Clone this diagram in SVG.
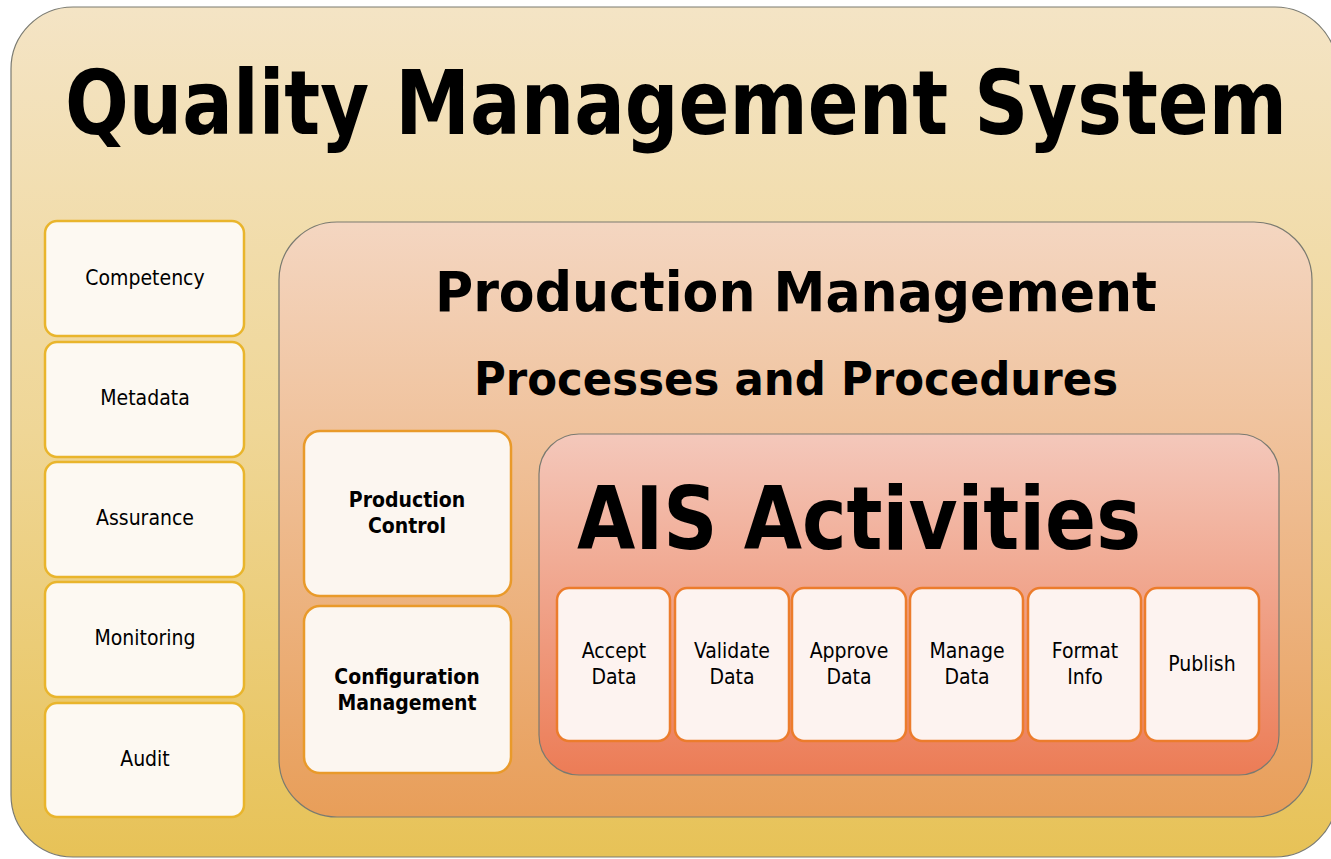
<svg xmlns="http://www.w3.org/2000/svg" width="1331" height="859" viewBox="0 0 1331 859">
<defs>
<linearGradient id="gOuter" x1="0" y1="0" x2="0" y2="1"><stop offset="0" stop-color="#f4e4c5"/><stop offset="0.5" stop-color="#efd696"/><stop offset="1" stop-color="#e7c257"/></linearGradient>
<linearGradient id="gProd" x1="0" y1="0" x2="0" y2="1"><stop offset="0" stop-color="#f4d6c1"/><stop offset="1" stop-color="#e89e59"/></linearGradient>
<linearGradient id="gAis" x1="0" y1="0" x2="0" y2="1"><stop offset="0" stop-color="#f4c8bb"/><stop offset="1" stop-color="#ec7c56"/></linearGradient>
<style>
text{font-family:"DejaVu Sans Condensed","DejaVu Sans",sans-serif;fill:#000;text-anchor:middle}
.big{font-weight:bold}
.qbox{fill:#fdf9f2;stroke:#e9b52c;stroke-width:2.5}
.pbox{fill:#fcf6f0;stroke:#e99a2a;stroke-width:2.5}
.abox{fill:#fdf3f0;stroke:#ec7c2c;stroke-width:2.5}
.lbl{font-size:21px}
.lblb{font-size:21px;font-weight:bold}
.cont{stroke:#7a7a70;stroke-width:1.2}
</style>
</defs>
<rect width="1331" height="859" fill="#ffffff"/>
<g id="qms">
<rect class="cont" x="11" y="7" width="1326" height="850" rx="62" fill="url(#gOuter)"/>
<text class="big" transform="translate(676,134) scale(1,1.12)" x="0" y="0" font-size="80" textLength="1222" lengthAdjust="spacingAndGlyphs">Quality Management System</text>
</g>
<g id="competency"><rect class="qbox" x="45" y="221" width="199" height="115" rx="12"/><text class="lbl" x="145" y="285">Competency</text></g>
<g id="metadata"><rect class="qbox" x="45" y="342" width="199" height="115" rx="12"/><text class="lbl" x="145" y="405">Metadata</text></g>
<g id="assurance"><rect class="qbox" x="45" y="462" width="199" height="115" rx="12"/><text class="lbl" x="145" y="525">Assurance</text></g>
<g id="monitoring"><rect class="qbox" x="45" y="582" width="199" height="115" rx="12"/><text class="lbl" x="145" y="645">Monitoring</text></g>
<g id="audit"><rect class="qbox" x="45" y="703" width="199" height="114" rx="12"/><text class="lbl" x="145" y="766">Audit</text></g>
<g id="production">
<rect class="cont" x="279" y="222" width="1033" height="595" rx="58" fill="url(#gProd)"/>
<text class="big" x="796" y="311" font-size="56" textLength="722" lengthAdjust="spacingAndGlyphs">Production Management</text>
<text class="big" x="796" y="395" font-size="47" textLength="644" lengthAdjust="spacingAndGlyphs">Processes and Procedures</text>
</g>
<g id="production-control"><rect class="pbox" x="304" y="431" width="207" height="165" rx="16"/><text class="lblb" x="407" y="507">Production</text><text class="lblb" x="407" y="533">Control</text></g>
<g id="configuration-management"><rect class="pbox" x="304" y="606" width="207" height="167" rx="16"/><text class="lblb" x="407" y="684">Configuration</text><text class="lblb" x="407" y="710">Management</text></g>
<g id="ais">
<rect class="cont" x="539" y="434" width="740" height="341" rx="40" fill="url(#gAis)"/>
<text class="big" x="859" y="549" font-size="88" textLength="564" lengthAdjust="spacingAndGlyphs">AIS Activities</text>
</g>
<g id="accept-data"><rect class="abox" x="557" y="588" width="113" height="153" rx="12"/><text class="lbl" x="614" y="658">Accept</text><text class="lbl" x="614" y="684">Data</text></g>
<g id="validate-data"><rect class="abox" x="675" y="588" width="114" height="153" rx="12"/><text class="lbl" x="732" y="658">Validate</text><text class="lbl" x="732" y="684">Data</text></g>
<g id="approve-data"><rect class="abox" x="792" y="588" width="114" height="153" rx="12"/><text class="lbl" x="849" y="658">Approve</text><text class="lbl" x="849" y="684">Data</text></g>
<g id="manage-data"><rect class="abox" x="910" y="588" width="113" height="153" rx="12"/><text class="lbl" x="967" y="658">Manage</text><text class="lbl" x="967" y="684">Data</text></g>
<g id="format-info"><rect class="abox" x="1028" y="588" width="113" height="153" rx="12"/><text class="lbl" x="1085" y="658">Format</text><text class="lbl" x="1085" y="684">Info</text></g>
<g id="publish"><rect class="abox" x="1145" y="588" width="114" height="153" rx="12"/><text class="lbl" x="1202" y="671">Publish</text></g>
<g id="connectors"></g>
</svg>
